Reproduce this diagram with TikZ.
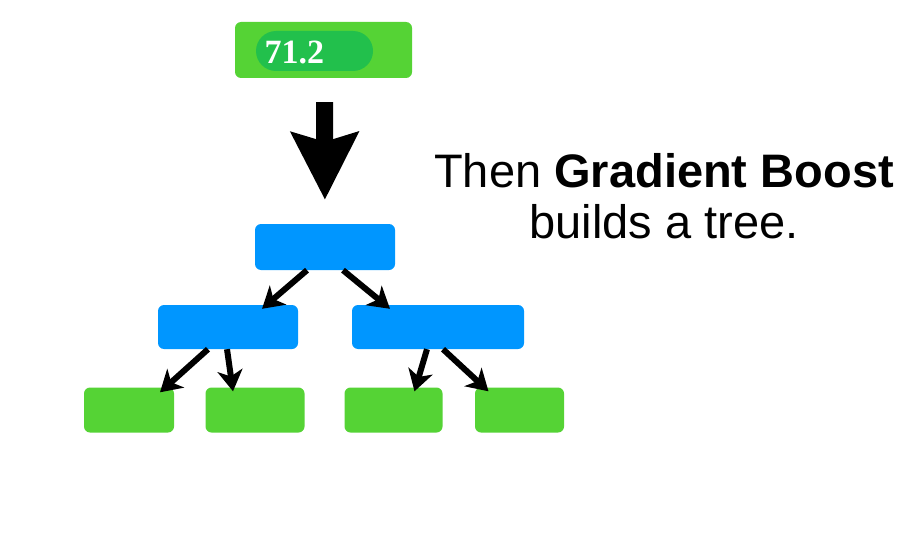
\documentclass[tikz,border=0pt]{standalone}
\usepackage{fontspec}
\setmainfont{Liberation Sans}
\newfontfamily\numfont{Liberation Serif}
\usetikzlibrary{arrows.meta,positioning}
\definecolor{leafgreen}{HTML}{55D335}
\definecolor{pillgreen}{HTML}{22C04C}
\definecolor{nodeblue}{HTML}{0096FF}

\tikzset{
  greenbox/.style={fill=leafgreen, rounded corners=6pt, minimum height=45pt, inner sep=0pt},
  bluebox/.style={fill=nodeblue, rounded corners=6pt, minimum height=45pt, inner sep=0pt},
  treearrow/.style={line width=6pt, -{Stealth[length=21pt, width=25pt, inset=6pt]}},
  bigarrow/.style={line width=17pt, -{Stealth[length=67pt, width=66pt, inset=9pt]}}
}

\begin{document}
\begin{tikzpicture}[x=1pt, y=-1pt]
\useasboundingbox (0,0) rectangle (900,543);
% starting prediction
\node[greenbox, minimum width=177pt, minimum height=56pt] (start) at (323.5,50) {};
\node[fill=pillgreen, rounded corners=20pt, minimum width=117pt, minimum height=40pt, inner sep=0pt] (pill) at (314.5,51) {};
\node[text=white, font=\numfont\bfseries\fontsize{34}{34}\selectfont, anchor=west] (val) at (261,52) {71.2};
% the tree
\node[bluebox, minimum width=140pt, minimum height=46pt] (root) at (325,247) {};
\node[bluebox, minimum width=140pt, minimum height=44pt] (lft) at (228,327) {};
\node[bluebox, minimum width=172pt, minimum height=44pt] (rgt) at (438,327) {};
\node[greenbox, minimum width=90pt] (l1) at (129,410) {};
\node[greenbox, minimum width=99pt] (l2) at (255,410) {};
\node[greenbox, minimum width=98pt] (l3) at (393.5,410) {};
\node[greenbox, minimum width=89pt] (l4) at (519.5,410) {};
\draw[bigarrow, shorten <=24pt, shorten >=24pt] ([xshift=1pt]start.south) -- (root.north);
\draw[treearrow] ([xshift=-18pt]root.south) -- ([xshift=34pt, yshift=-4pt]lft.north);
\draw[treearrow] ([xshift=18pt]root.south) -- ([xshift=-48pt, yshift=-4pt]rgt.north);
\draw[treearrow] ([xshift=-20pt]lft.south) -- ([xshift=31pt, yshift=-5pt]l1.north);
\draw[treearrow] ([xshift=-1pt]lft.south) -- ([xshift=-22pt, yshift=-4pt]l2.north);
\draw[treearrow] ([xshift=-11pt]rgt.south) -- ([xshift=21pt, yshift=-4pt]l3.north);
\draw[treearrow] ([xshift=5pt]rgt.south) -- ([xshift=-31pt, yshift=-4pt]l4.north);
% caption
\node[align=center, font=\fontsize{47}{51}\selectfont, anchor=base] (caption) at (664,238)
  {Then \textbf{Gradient Boost}\\builds a tree.};
\end{tikzpicture}
\end{document}
